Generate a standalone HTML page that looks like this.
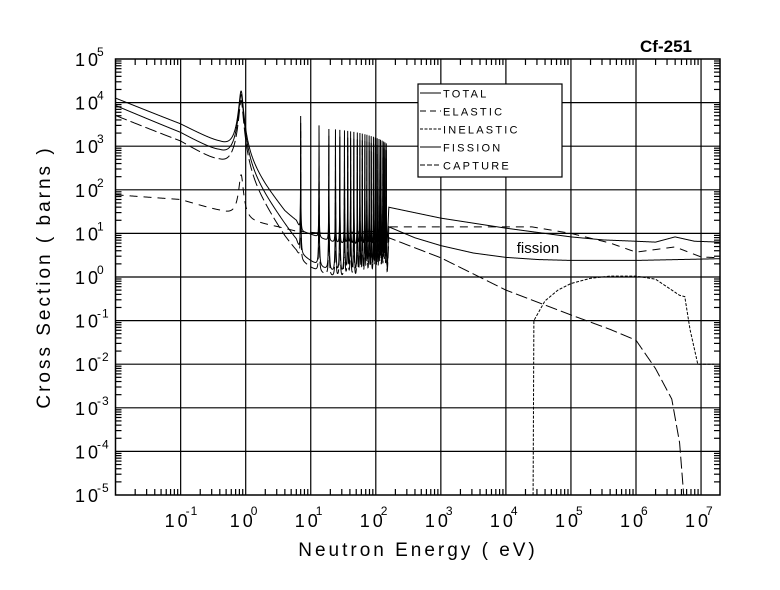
<!DOCTYPE html>
<html><head><meta charset="utf-8">
<style>
html,body{margin:0;padding:0;background:#fff;}
svg{display:block;}
text{font-family:"Liberation Sans",sans-serif;fill:#000;}
</style></head>
<body>
<svg id="s" width="780" height="590" viewBox="0 0 780 590" xmlns="http://www.w3.org/2000/svg">
<rect width="780" height="590" fill="#fff"/>
<g id="grid" stroke="#000" stroke-width="1.2" fill="none"></g>
<g id="curves" fill="none" stroke="#000" stroke-width="1"></g>
<rect x="115.5" y="59" width="604.5" height="436" fill="none" stroke="#000" stroke-width="1.5"/>
<g id="labels"></g>
<text x="666" y="52" font-size="17" font-weight="bold" text-anchor="middle">Cf-251</text>
<text x="538" y="253" font-size="15" text-anchor="middle">fission</text>
<g>
<rect x="418" y="84" width="144" height="93" fill="#fff" stroke="#000" stroke-width="1.2"/>
<line x1="420" y1="93" x2="441" y2="93" stroke="#000"/>
<line x1="420" y1="111" x2="441" y2="111" stroke="#000" stroke-dasharray="6,4"/>
<line x1="420" y1="129" x2="441" y2="129" stroke="#000" stroke-dasharray="3,1.5"/>
<line x1="420" y1="147" x2="441" y2="147" stroke="#000"/>
<line x1="420" y1="165" x2="441" y2="165" stroke="#000" stroke-dasharray="5,2"/>
<g font-size="11" letter-spacing="2.2">
<text x="443" y="97.5">TOTAL</text>
<text x="443" y="115.5">ELASTIC</text>
<text x="443" y="133.5">INELASTIC</text>
<text x="443" y="151.5">FISSION</text>
<text x="443" y="169.5">CAPTURE</text>
</g>
</g>
<text x="418" y="556" font-size="19" text-anchor="middle" letter-spacing="3">Neutron Energy ( eV)</text>
<text transform="translate(50,277) rotate(-90)" font-size="19" text-anchor="middle" letter-spacing="3">Cross Section ( barns )</text>
</svg>
<script>
(function(){
var NS="http://www.w3.org/2000/svg";
function X(l){return 245.7+65.05*l;}
function Y(l){return 277-43.6*l;}
function el(p,t,a){var e=document.createElementNS(NS,t);for(var k in a)e.setAttribute(k,a[k]);p.appendChild(e);return e;}
var g=document.getElementById('grid');
var x0=115.5,x1=720,y0=59,y1=495;
for(var d=-1;d<=7;d++){var x=X(d);el(g,'line',{x1:x,y1:y0,x2:x,y2:y1});}
for(var d=-4;d<=4;d++){var y=Y(d);el(g,'line',{x1:x0,y1:y,x2:x1,y2:y});}
for(var d=-2;d<=7;d++){for(var m=2;m<=9;m++){var l=d+Math.log10(m);var x=X(l);if(x<=x0||x>=x1)continue;
 el(g,'line',{x1:x,y1:y1,x2:x,y2:y1-6});el(g,'line',{x1:x,y1:y0,x2:x,y2:y0+6});}}
for(var d=-5;d<5;d++){for(var m=2;m<=9;m++){var l=d+Math.log10(m);var y=Y(l);
 el(g,'line',{x1:x0,y1:y,x2:x0+6,y2:y});el(g,'line',{x1:x1,y1:y,x2:x1-6,y2:y});}}
var lb=document.getElementById('labels');
for(var d=-5;d<=5;d++){var y=Y(d);
 var t=el(lb,'text',{x:75,y:y+7,'font-size':18,'letter-spacing':'3'});t.textContent='10';
 var s=el(lb,'text',{x:97,y:y-3,'font-size':12,'letter-spacing':'1'});s.textContent=(d<0?'-':'')+Math.abs(d);}
for(var d=-1;d<=7;d++){var x=X(d);
 var t=el(lb,'text',{x:x-16,y:527,'font-size':18,'letter-spacing':'3'});t.textContent='10';
 var s=el(lb,'text',{x:x+5,y:515,'font-size':12,'letter-spacing':'1'});s.textContent=(d<0?'-':'')+Math.abs(d);}
function interp(pts,l){if(l<=pts[0][0])return pts[0][1];for(var i=1;i<pts.length;i++){if(l<=pts[i][0]){var a=pts[i-1],b=pts[i];return a[1]+(b[1]-a[1])*(l-a[0])/(b[0]-a[0]);}}return pts[pts.length-1][1];}
var res=[7.0,13.4,19,24,28,33,37,41,46,52,57,62,68,73,79,85,92,98,105,112,118,125,132,138,145];
var GF=0.0009;
function grid(lo,hi){var a=[];var N=3500;for(var i=0;i<=N;i++)a.push(lo+(hi-lo)*i/N);
 res.forEach(function(E){for(var k=-30;k<=30;k++){var e=E*(1+k*0.00035);var l=Math.log10(e);if(l>lo&&l<hi)a.push(l);}});
 for(var k=-40;k<=40;k++){var l=Math.log10(0.85+k*0.01);if(l>lo&&l<hi)a.push(l);}
 return a.sort(function(p,q){return p-q;});}
function curve(base,pk,rh,dash,lo,hi){
 var ls=grid(lo,hi),d='';
 ls.forEach(function(l,i){var E=Math.pow(10,l);var s=Math.pow(10,interp(base,l));
  if(pk)s+=pk/(1+Math.pow((E-0.85)/0.055,2));
  if(rh&&E>5&&E<160){res.forEach(function(Ei,j){var A=rh(j);var G=GF*Ei;s+=A/(1+Math.pow((E-Ei)/G,2));});}
  var ly=Math.log10(s);if(ly<-5)ly=-5;
  var x=X(l),y=Y(ly);if(x<x0)x=x0;if(x>x1)x=x1;
  d+=(i?'L':'M')+x.toFixed(2)+' '+y.toFixed(2);});
 var a={d:d};if(dash)a['stroke-dasharray']=dash;
 el(document.getElementById('curves'),'path',a);}
var total=[[-2,4.1],[-1,3.5],[-0.4,3.03],[0,2.6],[0.3,2.0],[0.6,1.45],[0.78,1.25],[0.85,1.0],[1.0,0.95],[1.4,0.75],[2.17,0.55],[2.2,1.6],[3,1.35],[4,1.12],[5,0.92],[5.5,0.85],[6,0.82],[6.3,0.8],[6.6,0.92],[6.9,0.82],[7.3,0.8]];
var fis=[[-2,3.93],[-1,3.3],[-0.4,2.8],[0,2.3],[0.3,1.7],[0.6,1.1],[0.78,0.75],[0.85,0.35],[1.0,0.25],[1.4,0.0],[2.17,-0.3],[2.2,1.15],[2.6,0.9],[3,0.72],[3.5,0.55],[4,0.45],[4.5,0.4],[5,0.38],[6,0.38],[7.3,0.42]];
var ela=[[-2,1.88],[-1,1.77],[-0.4,1.5],[-0.15,1.35],[0,1.3],[0.5,1.15],[0.78,1.05],[1.2,1.0],[2.17,1.05],[2.2,1.15],[4.4,1.15],[5,1.0],[5.6,0.78],[6,0.57],[6.6,0.69],[7,0.46],[7.3,0.44]];
var cap=[[-2,3.7],[-1,3.1],[-0.4,2.55],[0,2.0],[0.3,1.4],[0.6,0.75],[0.78,0.45],[0.85,0.2],[1.0,0.1],[1.4,-0.1],[2.17,-0.3],[2.2,0.9],[3,0.44],[4,-0.3],[5,-0.87],[5.6,-1.2],[6,-1.45],[6.3,-2.1],[6.55,-2.8],[6.67,-3.8],[6.76,-5.5],[7.3,-6]];
var ine=[[4.415,-6],[4.43,-1.0],[4.6,-0.55],[4.8,-0.3],[5,-0.15],[5.3,-0.03],[5.6,0.02],[6,0.02],[6.3,-0.05],[6.55,-0.3],[6.67,-0.42],[6.75,-0.45],[6.83,-1.2],[6.95,-2.0],[7.3,-2.0]];
function rhT(j){return j==0?4900:(j==1?3000:2600-j*60);}
curve(total,1.8e4,rhT,null,-2,7.3);
curve(fis,1.5e4,function(j){return rhT(j)*0.7;},null,-2,7.3);
curve(cap,1.1e4,function(j){return rhT(j)*0.45;},'12,4',-2,6.8);
curve(ela,200,function(j){return rhT(j)*0.05;},'8,6',-2,7.3);
curve(ine,0,null,'3,1.5',4.415,7.2);
})();
</script>
</body></html>
